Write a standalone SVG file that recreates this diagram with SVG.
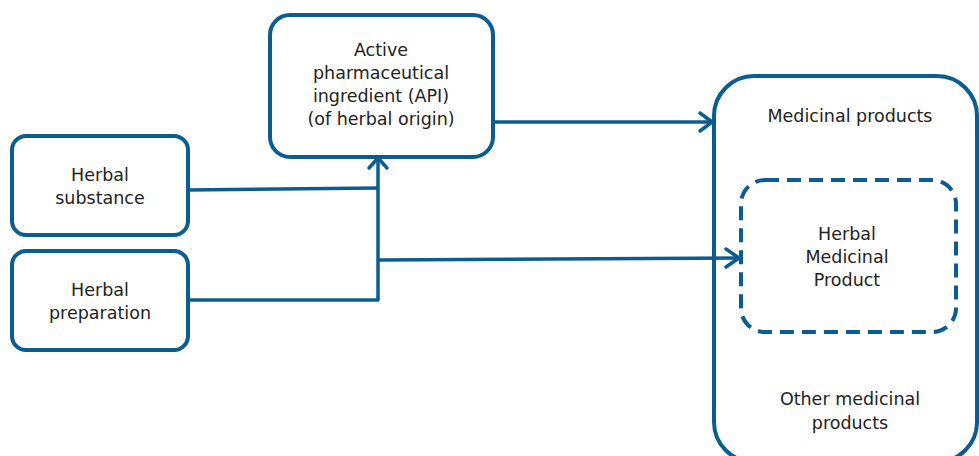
<svg xmlns="http://www.w3.org/2000/svg" width="979" height="456" viewBox="0 0 979 456">
<style>
.box{fill:#fff;stroke:#0b5d91;stroke-width:4}
.dash{fill:none;stroke:#0b5d91;stroke-width:4;stroke-dasharray:14 8}
.ln{fill:none;stroke:#0b5d91;stroke-width:3.5;stroke-linejoin:round}
.ah{fill:none;stroke:#0b5d91;stroke-width:3.5;stroke-linecap:round;stroke-linejoin:round}
text{font-family:"DejaVu Sans","Verdana",sans-serif;font-size:17.5px;fill:#222;text-anchor:middle}
</style>
<rect width="979" height="456" fill="#fff"/>
<g id="medicinal-products">
<rect class="box" x="714" y="76" width="263" height="386" rx="40"/>
<text x="850" y="122">Medicinal products</text>
<text x="850" y="405">Other medicinal</text>
<text x="850" y="429">products</text>
</g>
<g id="herbal-medicinal-product">
<rect class="dash" x="741" y="180" width="215" height="152" rx="24"/>
<text x="847" y="240">Herbal</text>
<text x="847" y="263">Medicinal</text>
<text x="847" y="286">Product</text>
</g>
<g id="api">
<rect class="box" x="270" y="15" width="223" height="142" rx="20"/>
<text x="381" y="56">Active</text>
<text x="381" y="79">pharmaceutical</text>
<text x="381" y="102">ingredient (API)</text>
<text x="381" y="125">(of herbal origin)</text>
</g>
<g id="herbal-substance">
<rect class="box" x="12" y="136" width="176" height="99" rx="14"/>
<text x="100" y="181">Herbal</text>
<text x="100" y="204">substance</text>
</g>
<g id="herbal-preparation">
<rect class="box" x="12" y="251" width="176" height="99" rx="14"/>
<text x="100" y="296">Herbal</text>
<text x="100" y="319">preparation</text>
</g>
<g id="connectors">
<path class="ln" d="M188 190 L378 188"/>
<path class="ln" d="M188 300 L378 300 L378 159"/>
<path class="ah" d="M369 168 L378 158 L387 168"/>
<path class="ln" d="M378 260 L739 258"/>
<path class="ah" d="M726 249 L739 258 L726 267"/>
<path class="ln" d="M493 122 L712 122"/>
<path class="ah" d="M700 113 L712 122 L700 131"/>
</g>
</svg>
